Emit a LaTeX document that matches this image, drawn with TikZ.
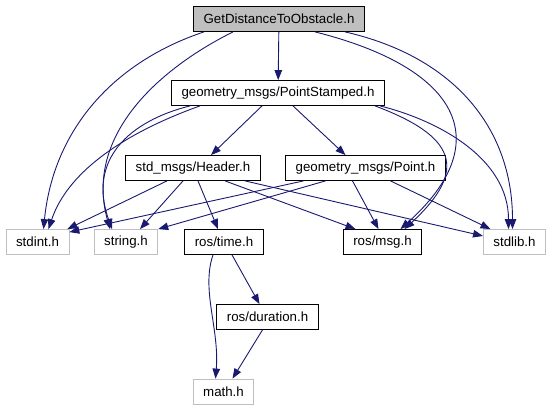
\documentclass[tikz,border=0pt]{standalone}
\usepackage{fontspec}
\setmainfont{Liberation Sans}
\usepackage{xcolor}
\usepackage{tikz}
\usetikzlibrary{arrows.meta,positioning,calc}
\definecolor{edgeblue}{HTML}{191970}
\definecolor{extgrey}{HTML}{BFBFBF}

\begin{document}
\begin{tikzpicture}[x=1pt,y=-1pt,
  every node/.style={rectangle,draw,line width=0.8pt,minimum height=25pt,
    inner xsep=10pt,inner ysep=0pt,font=\fontsize{13.3}{16}\selectfont},
  filebox/.style={draw=black},
  extbox/.style={draw=extgrey},
  rootbox/.style={draw=black,fill=extgrey},
  inc/.style={draw=edgeblue,line width=0.9pt,-{Triangle[length=10pt,width=7.5pt]}}]
  \useasboundingbox (0,0) rectangle (552,411);
  % files
  \node[rootbox] (root) at (279,19) {GetDistanceToObstacle.h};
  \node[filebox] (stamped) at (278,93) {geometry\_msgs/PointStamped.h};
  \node[filebox] (header) at (193,168) {std\_msgs/Header.h};
  \node[filebox] (point) at (365.5,168) {geometry\_msgs/Point.h};
  \node[extbox] (stdint) at (37.5,242) {stdint.h};
  \node[extbox] (string) at (126,242) {string.h};
  \node[filebox] (time) at (224,242) {ros/time.h};
  \node[filebox] (msg) at (382.5,242) {ros/msg.h};
  \node[extbox] (stdlib) at (514.5,242) {stdlib.h};
  \node[filebox] (duration) at (267.5,317) {ros/duration.h};
  \node[extbox] (math) at (223.5,391.5) {math.h};
  % includes of the root file
  \draw[inc] ([xshift=-75pt]root.south) .. controls +(-90,30) and +(10,-100) .. ([xshift=6pt]stdint.north);
  \draw[inc] ([xshift=-46pt]root.south) .. controls +(-80,40) and +(-25,-90) .. ([xshift=-16pt]string.north);
  \draw[inc] (root) -- (stamped);
  \draw[inc] ([xshift=36pt]root.south) .. controls +(140,35) and +(100,-90) .. ([xshift=18pt]msg.north);
  \draw[inc] ([xshift=66pt]root.south) .. controls +(110,25) and +(0,-100) .. ([xshift=-2pt]stdlib.north);
  % includes of PointStamped
  \draw[inc] ([xshift=-88pt]stamped.south) .. controls +(-60,15) and +(-25,-70) .. ([xshift=-14pt]string.north);
  \draw[inc] ([xshift=-78pt]stamped.south) .. controls +(-70,25) and +(20,-60) .. ([xshift=11pt]stdint.north);
  \draw[inc] ([xshift=-16pt]stamped.south) -- ([xshift=18pt]header.north);
  \draw[inc] ([xshift=15pt]stamped.south) -- ([xshift=-20pt]point.north);
  \draw[inc] ([xshift=97pt]stamped.south) .. controls +(80,30) and +(65,-60) .. ([xshift=22pt]msg.north);
  \draw[inc] ([xshift=102pt]stamped.south) .. controls +(60,15) and +(0,-70) .. ([xshift=-6pt]stdlib.north);
  % includes of Header
  \draw[inc] ([xshift=-26pt]header.south) -- ([xshift=-2pt]stdint.north east);
  \draw[inc] ([xshift=-10pt]header.south) -- ([xshift=14pt]string.north);
  \draw[inc] ([xshift=5pt]header.south) -- ([xshift=-6pt]time.north);
  \draw[inc] ([xshift=32pt]header.south) -- ([xshift=-27pt]msg.north);
  \draw[inc] ([xshift=52pt]header.south) -- ([yshift=6pt]stdlib.west);
  % includes of Point
  \draw[inc] ([xshift=-62pt]point.south) -- ([yshift=-3pt]stdint.north east);
  \draw[inc] ([xshift=-40pt]point.south) -- (string.north east);
  \draw[inc] ([xshift=-13pt]point.south) -- ([xshift=-4pt]msg.north);
  \draw[inc] ([xshift=25pt]point.south) -- ([xshift=-24pt]stdlib.north);
  % includes of time and duration
  \draw[inc] ([xshift=8pt]time.south) -- ([xshift=-8pt]duration.north);
  \draw[inc] ([xshift=-11pt]time.south) .. controls +(-12,35) and +(4,-50) .. ([xshift=-8pt]math.north);
  \draw[inc] ([xshift=-5pt]duration.south) -- ([xshift=9pt]math.north);
\end{tikzpicture}
\end{document}
